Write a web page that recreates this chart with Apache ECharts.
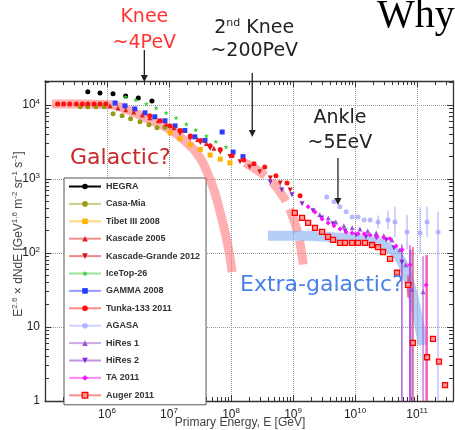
<!DOCTYPE html>
<html><head><meta charset="utf-8">
<script src="https://cdn.jsdelivr.net/npm/echarts@6/dist/echarts.min.js"></script>
<style>html,body{margin:0;padding:0;background:#fff}#c{width:455px;height:430px}</style>
</head><body><div id="c"></div>
<script>
// ---------- tick labels ----------
const xTickLabels = [1e6, 1e7, 1e8, 1e9, 1e10, 1e11];
const yTickLabels = [1, 10, 100, 1000, 10000];
const xDecades = [1e5, 1e6, 1e7, 1e8, 1e9, 1e10, 1e11];
const seriesNames = ['HEGRA','Casa-Mia','Tibet III 2008','Kascade 2005','Kascade-Grande 2012','IceTop-26','GAMMA 2008','Tunka-133 2011','AGASA','HiRes 1','HiRes 2','TA 2011','Auger 2011'];

// ---------- data: energy (GeV) and E^2.6 dN/dE ----------
const hegraE = [4.9e5, 7.7e5, 1.25e6, 2.0e6, 3.2e6, 5.3e6];
const hegraF = [1.5e4, 1.45e4, 1.41e4, 1.32e4, 1.24e4, 1.13e4];
const casaE = [3.7e5, 4.9e5, 6.6e5, 9.0e5, 1.25e6, 1.75e6, 2.4e6, 3.4e6, 4.75e6, 6.4e6, 8.6e6];
const casaF = [9.4e3, 9.4e3, 9.4e3, 9.4e3, 7.6e3, 7.1e3, 6.5e3, 5.9e3, 5.4e3, 4.9e3, 5.0e3];
const tibetE = [1.04e7, 1.5e7, 2.2e7, 3.2e7, 4.6e7, 6.7e7, 9.6e7];
const tibetF = [4.2e3, 3.5e3, 2.9e3, 2.5e3, 2.1e3, 1.85e3, 1.65e3];
const kascadeE = [1.12e6, 1.5e6, 2.0e6, 2.7e6, 3.7e6, 4.9e6, 6.7e6, 9.0e6, 1.2e7, 1.6e7, 2.2e7, 2.9e7, 4.0e7, 5.3e7];
const kascadeF = [9.7e3, 9.1e3, 8.6e3, 8.0e3, 7.3e3, 6.7e3, 6.1e3, 5.5e3, 4.9e3, 4.5e3, 3.8e3, 3.4e3, 3.0e3, 2.6e3];
const kgE = [1.5e7, 2.2e7, 3.2e7, 4.6e7, 6.7e7, 9.6e7, 1.4e8, 2.0e8, 2.9e8, 4.3e8, 6.2e8, 9.0e8];
const kgF = [4.1e3, 3.5e3, 3.1e3, 2.6e3, 2.3e3, 2.0e3, 1.7e3, 1.45e3, 1.25e3, 1.03e3, 880, 710];
const icetopE = [2.0e6, 2.9e6, 4.3e6, 6.2e6, 9.0e6, 1.3e7, 1.9e7, 2.7e7, 4.0e7, 5.7e7, 8.3e7];
const icetopF = [1.28e4, 1.17e4, 1.03e4, 9.1e3, 7.8e3, 6.7e3, 5.5e3, 4.6e3, 3.8e3, 3.2e3, 2.7e3];
const gammaE = [1.35e6, 1.95e6, 2.8e6, 4.1e6, 5.9e6, 8.6e6, 1.25e7, 1.8e7, 2.6e7, 3.8e7, 7.2e7, 1.08e8, 1.56e8];
const gammaF = [1.06e4, 9.7e3, 8.8e3, 7.8e3, 6.9e3, 6.1e3, 5.2e3, 4.5e3, 3.7e3, 3.3e3, 4.3e3, 2.3e3, 2.0e3];
const tunkaE = [1.6e5, 2.0e5, 2.5e5, 3.2e5, 4.0e5, 4.9e5, 6.2e5, 7.7e5, 9.6e5, 4.9e6, 7.2e6, 1.04e7, 1.5e7, 2.2e7, 3.2e7, 4.6e7, 6.7e7, 1.04e8, 1.6e8, 2.35e8, 3.5e8, 5.3e8, 8.0e8, 1.3e9];
const tunkaF = [1.03e4, 1.03e4, 1.03e4, 1.03e4, 1.03e4, 1.03e4, 1.03e4, 1.03e4, 1.03e4, 7.1e3, 6.1e3, 5.2e3, 4.5e3, 3.8e3, 3.3e3, 2.8e3, 2.5e3, 2.05e3, 1.8e3, 1.6e3, 1.45e3, 1.1e3, 880, 590];
const agasaE = [3.5e9, 4.6e9, 5.7e9, 7.2e9, 9.0e9, 1.12e10, 1.4e10, 1.75e10, 2.35e10, 3.4e10, 4.4e10, 6.9e10, 1.12e11, 1.45e11, 2.18e11];
const agasaF = [570, 490, 420, 360, 306, 306, 279, 279, 262, 279, 262, 192, 186, 262, 192];
const hires1E = [2.7e9, 3.7e9, 4.9e9, 6.6e9, 9.0e9, 1.2e10, 1.6e10, 2.2e10, 2.9e10, 3.95e10, 5.3e10, 6.6e10, 8.3e10, 1.25e11];
const hires1F = [327, 297, 262, 232, 218, 211, 198, 186, 170, 150, 110, 69, 32, 30];
const hires2E = [4.3e8, 6.6e8, 9.6e8, 1.4e9, 2.1e9, 2.9e9, 4.4e9, 6.9e9, 1.04e10, 1.5e10, 2.2e10, 3.2e10, 4.25e10, 5.7e10, 7.7e10];
const hires2F = [910, 710, 610, 460, 370, 297, 247, 198, 175, 165, 160, 150, 117, 75, 37];
const taE = [1.75e9, 2.26e9, 2.94e9, 3.67e9, 4.58e9, 5.73e9, 7.16e9, 8.95e9, 1.12e10, 1.4e10, 1.75e10, 2.26e10, 2.94e10, 3.67e10, 4.58e10, 5.73e10, 7.7e10, 1.4e11];
const taF = [419, 358, 288, 254, 232, 211, 192, 186, 181, 181, 175, 165, 160, 155, 124, 110, 69, 37];
const augerE = [1.07e9, 1.4e9, 1.75e9, 2.26e9, 2.94e9, 3.67e9, 4.42e9, 5.73e9, 6.9e9, 8.95e9, 1.12e10, 1.45e10, 1.88e10, 2.35e10, 2.83e10, 3.67e10, 4.76e10, 7.16e10, 8.6e10, 1.45e11, 1.81e11, 2.26e11, 2.83e11];
const augerF = [348, 297, 254, 218, 192, 165, 150, 137, 137, 137, 137, 137, 128, 120, 103, 83, 54, 37, 6.1, 3.9, 6.9, 3.4, 1.64];

// error bars: [E, low, high]
const agasaErr = [[2.35e10, 215, 320], [3.4e10, 210, 370], [4.4e10, 165, 419], [6.9e10, 110, 327], [1.12e11, 100, 419], [1.45e11, 165, 419], [2.18e11, 1, 358]];
const augerErr = [[7.16e10, 25, 50], [8.6e10, 1, 120], [1.45e11, 1, 94]];
const taErr = [[7.7e10, 1, 128], [1.4e11, 1, 94]];
const hires1Err = [[8.3e10, 1, 110], [1.25e11, 1, 90]];
const hires2Err = [[5.7e10, 1, 130], [7.7e10, 1, 110]];

// model bands
const galE = [1.3e5, 3.7e5, 1.12e6, 2.35e6, 4.94e6, 9.3e6, 1.95e7, 3.16e7, 4.1e7, 5.3e7, 6.65e7, 8.0e7, 9.3e7, 1.04e8];
const galF = [1.03e4, 1.03e4, 1.0e4, 8.3e3, 6.27e3, 4.89e3, 3.06e3, 1.92e3, 1.24e3, 710, 358, 192, 103, 55];
const gal2E = [1.68e8, 2.94e8, 4.58e8, 6.65e8, 8.95e8, 1.16e9, 1.35e9, 1.5e9];
const gal2F = [1.65e3, 1.24e3, 910, 608, 381, 205, 110, 59];
const exgE = [3.95e8, 1.3e9, 5.73e9, 1.75e10, 3.28e10, 4.94e10, 6.9e10, 9.3e10, 1.25e11];
const exgF = [170, 170, 160, 145, 120, 91, 50, 19.8, 5.7];

// annotation energies
const annotE = [4e6, 2.2e8, 5.3e9];

// ---------- styles ----------
const triDown = 'path://M0,0L10,0L5,9Z';
const star = 'path://M5,0L6.2,3.6L10,3.6L7,5.9L8.1,9.5L5,7.3L1.9,9.5L3,5.9L0,3.6L3.8,3.6Z';
const styles = [
  {c:'#000000', s:'circle', z:5},
  {c:'#9a9a14', s:'circle', z:5},
  {c:'#ffb300', s:'rect', z:5},
  {c:'#e02020', s:'triangle', z:6},
  {c:'#d81818', s:triDown, z:6},
  {c:'#33cc33', s:star, z:7},
  {c:'#2a3cff', s:'rect', z:5},
  {c:'#ff1010', s:'circle', z:6},
  {c:'#a4a8ff', s:'circle', z:5},
  {c:'#9a55d0', s:'triangle', z:5},
  {c:'#8a2bd0', s:triDown, z:5},
  {c:'#ff10ff', s:'diamond', z:6},
  {c:'#ff2020', s:'rect', z:7}
];
const dataSets = [[hegraE,hegraF],[casaE,casaF],[tibetE,tibetF],[kascadeE,kascadeF],[kgE,kgF],[icetopE,icetopF],[gammaE,gammaF],[tunkaE,tunkaF],[agasaE,agasaF],[hires1E,hires1F],[hires2E,hires2F],[taE,taF],[augerE,augerF]];
const errSets = [[agasaErr,'#b0b4ff'],[augerErr,'#ff3030'],[taErr,'#ff30ff'],[hires1Err,'#a070d8'],[hires2Err,'#9040d0']];

const zip = (a, b) => a.map((v, i) => [v, b[i]]);

const series = [];
series.push({type:'line', data: zip(galE, galF), smooth: true, symbol:'none', silent:true, z:5,
  lineStyle:{width:9, color:'rgba(255,110,110,0.55)', cap:'butt'}});
series.push({type:'line', data: zip(gal2E, gal2F), smooth: true, symbol:'none', silent:true, z:5,
  lineStyle:{width:9, color:'rgba(255,110,110,0.55)', type:[24,9], cap:'butt'}});
series.push({type:'line', data: zip(exgE, exgF), smooth: true, symbol:'none', silent:true, z:5,
  lineStyle:{width:10, color:'rgba(120,165,240,0.55)', cap:'butt'}});
errSets.forEach(([arr, col]) => {
  series.push({type:'custom', data: arr, z:6, silent:true, clip:true,
    renderItem: (p, api) => {
      const a = api.coord([api.value(0), api.value(1)]);
      const b = api.coord([api.value(0), api.value(2)]);
      return {type:'line', shape:{x1:a[0], y1:a[1], x2:b[0], y2:b[1]}, style:{stroke:col, lineWidth:1.2}};
    }});
});
seriesNames.forEach((n, i) => {
  const st = styles[i];
  const isAuger = n === 'Auger 2011';
  series.push({type:'line', name:n, data: zip(dataSets[i][0], dataSets[i][1]),
    symbol: st.s, symbolSize: 5, showSymbol:true, z: st.z + 2,
    lineStyle:{width:0, opacity:0},
    itemStyle: isAuger ? {color:'#ff9a9a', borderColor:'#ff0000', borderWidth:1.3} : {color: st.c, opacity: n==='AGASA'?0.8:1}
  });
});

const minorOf = (lo, hi) => { const out = []; for (let d = lo; d < hi; d++) for (let k = 2; k <= 9; k++) out.push(k * Math.pow(10, d)); return out; };
const xMinor = minorOf(5, 12).filter(v => v <= 3.8e11);
const yMinor = minorOf(0, 5).filter(v => v <= 2.1e4);

const supRich = {s:{fontSize:8, fontFamily:'Liberation Sans', color:'#222', padding:[0,0,7,0]}, b:{fontSize:12, fontFamily:'Liberation Sans', color:'#222'}};
const powFmt = v => { const e = Math.round(Math.log10(v)); if (e === 0) return '{b|1}'; if (e === 1) return '{b|10}'; return '{b|10}{s|' + e + '}'; };

const X0 = 1e5, X1 = 3.8e11, Y0 = 1, Y1 = 2.1e4;
const tickAxis = (pos, vals, len, showLine, min, max) => ({type:'log', logBase:10, min:min, max:max, position:pos,
  axisLine:{show:showLine, onZero:false, lineStyle:{color:'#333', width:1.3}},
  axisTick:{show:true, inside:true, length:len, customValues:vals, lineStyle:{color:'#333'}},
  axisLabel:{show:false}, splitLine:{show:false}});

const xMain = tickAxis('bottom', xDecades, 6, true, X0, X1);
xMain.axisLabel = {show:true, customValues:xTickLabels, formatter:powFmt, rich:supRich, margin:6};
xMain.splitLine = {show:true, lineStyle:{type:'dotted', color:'#999'}};
xMain.name = 'Primary Energy, E [GeV]'; xMain.nameLocation = 'middle'; xMain.nameGap = 16; xMain.nameMoveOverlap = false;
xMain.nameTextStyle = {fontFamily:'Liberation Sans', fontSize:12, color:'#444', padding:[0,18,0,0]};

const yMain = tickAxis('left', yTickLabels, 6, true, Y0, Y1);
yMain.axisLabel = {show:true, customValues:yTickLabels, formatter:powFmt, rich:supRich, margin:5};
yMain.splitLine = {show:true, lineStyle:{type:'dotted', color:'#999'}};
yMain.name = 'E{s|2.6} × dNdE [GeV{s|1.6} m{s|-2} sr{s|-1} s{s|-1}]';
yMain.nameLocation = 'middle'; yMain.nameGap = 19; yMain.nameRotate = 90; yMain.nameMoveOverlap = false;
yMain.nameTextStyle = {fontFamily:'Liberation Sans', fontSize:12, color:'#444', padding:[0,0,0,14], rich:{s:{fontSize:8, color:'#444', padding:[0,0,7,0]}}};

const option = {
  animation:false,
  backgroundColor:'#fff',
  grid:{left:45, right:2, top:81, bottom:29, containLabel:false, outerBoundsMode:'none'},
  legend:{
    data: seriesNames.map((n, i) => ({name:n, itemStyle: n==='Auger 2011'?{color:'#ff9a9a', borderColor:'#ff0000', borderWidth:1.3}:{color:styles[i].c}, lineStyle:{width:2, opacity:i===0?1:0.5, color:styles[i].c}})),
    orient:'vertical', left:64, top:178, itemWidth:32, itemHeight:7, itemGap:8.4,
    padding:[4,6,5,4], backgroundColor:'#fff', borderColor:'#555', borderWidth:1, z:4,
    textStyle:{fontFamily:'Liberation Sans', fontWeight:'bold', fontSize:9, color:'#333', width:120},
    selectedMode:false
  },
  xAxis:[xMain, tickAxis('top', xDecades, 6, true, X0, X1), tickAxis('bottom', xMinor, 4, false, X0, X1), tickAxis('top', xMinor, 4, false, X0, X1)],
  yAxis:[yMain, tickAxis('right', yTickLabels, 6, true, Y0, Y1), tickAxis('left', yMinor, 4, false, Y0, Y1), tickAxis('right', yMinor, 4, false, Y0, Y1)],
  series: series
};

const chart = echarts.init(document.getElementById('c'), null, {renderer:'canvas'});
chart.setOption(option);

const px = e => chart.convertToPixel({xAxisIndex:0}, e);
const gfx = [];
const arrows = [[annotE[0], 50, 82, '#222'], [annotE[1], 73, 137, '#222'], [annotE[2], 158, 205, '#222']];
arrows.forEach(([e, y1, y2, col]) => {
  const x = px(e);
  gfx.push({type:'line', z:20, shape:{x1:x, y1:y1, x2:x, y2:y2-5}, style:{stroke:col, lineWidth:1.3}});
  gfx.push({type:'polygon', z:20, shape:{points:[[x-3.5, y2-7], [x+3.5, y2-7], [x, y2]]}, style:{fill:col}});
});
const tfont = 'DejaVu Sans';
const txt = (x, y, text, size, color, align, rich) => ({type:'text', z:20, x:x, y:y,
  style:{text:text, fontFamily:tfont, fontSize:size, fill:color, textAlign:align||'center', textVerticalAlign:'middle', rich:rich}});
const k1 = px(annotE[0]), k2 = px(annotE[1]), k3 = px(annotE[2]);
gfx.push(txt(k1, 17, 'Knee', 19, '#ff3333'));
gfx.push(txt(k1, 43, '~4PeV', 19, '#ff3333'));
gfx.push(txt(k2 + 2, 28, '2{n|nd} Knee', 19, '#222', 'center', {n:{fontSize:11, fontFamily:tfont, fill:'#222', padding:[0,0,9,0]}}));
gfx.push(txt(k2 + 2, 51, '~200PeV', 19, '#222'));
gfx.push(txt(k3 + 2, 118, 'Ankle', 19, '#222'));
gfx.push(txt(k3 + 2, 143, '~5EeV', 19, '#222'));
gfx.push(txt(70, 158, 'Galactic?', 22, '#c82828', 'left'));
gfx.push(txt(240, 285, 'Extra-galactic?', 22, '#4a82e8', 'left'));
gfx.push({type:'text', z:20, x:377, y:16, style:{text:'Why', fontFamily:'Liberation Serif', fontSize:40, fill:'#000', textAlign:'left', textVerticalAlign:'middle'}});
chart.setOption({graphic: gfx});
</script>
</body></html>
